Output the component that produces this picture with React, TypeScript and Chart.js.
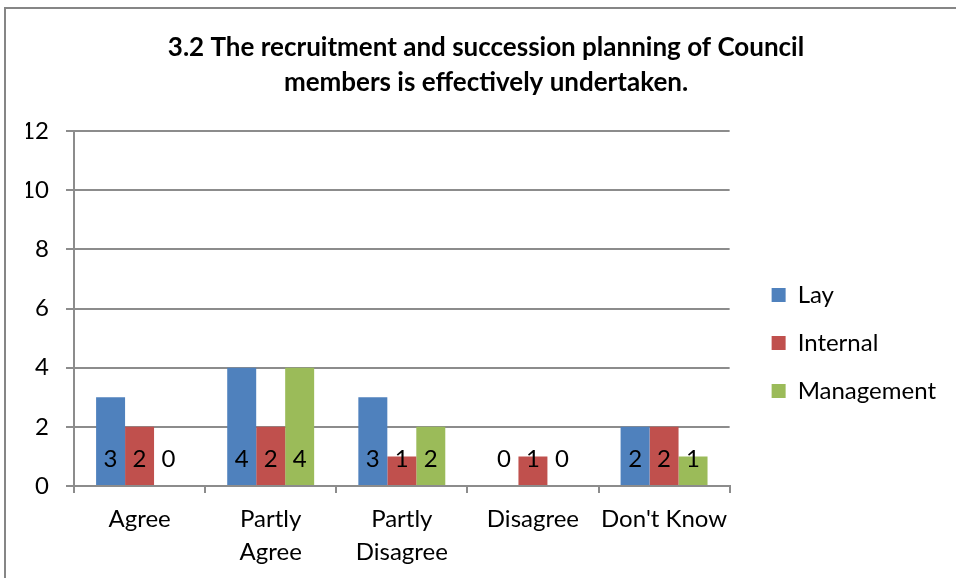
import React, { useEffect, useRef } from "react";
import { Chart, registerables } from "chart.js";

Chart.register(...registerables);

const titleLines = [
  "3.2 The recruitment and succession planning of Council",
  "members is effectively undertaken.",
];
const categories: (string | string[])[] = [
  "Agree",
  ["Partly", "Agree"],
  ["Partly", "Disagree"],
  "Disagree",
  "Don't Know",
];
const seriesNames = ["Lay", "Internal", "Management"];
const layValues = [3, 4, 3, 0, 2];
const internalValues = [2, 2, 1, 1, 2];
const managementValues = [0, 4, 2, 0, 1];
const seriesColors = ["#4F81BD", "#C0504D", "#9BBB59"];
const yMin = 0;
const yMax = 12;
const yStep = 2;

const FONT = "Lato, 'Open Sans', sans-serif";
const GRID = "#8c8c8c";

const CANVAS_W = 972;
const CANVAS_H = 578;
const PAD_L = 26;
const PAD_R = 26;

const valueLabels = {
  id: "valueLabels",
  afterDatasetsDraw(chart: any) {
    const ctx = chart.ctx;
    const yScale = chart.scales.y;
    const base = yScale.getPixelForValue(0);
    ctx.save();
    ctx.font = `24px ${FONT}`;
    ctx.fillStyle = "#000";
    ctx.textAlign = "center";
    ctx.textBaseline = "middle";
    chart.data.datasets.forEach((ds: any, i: number) => {
      const meta = chart.getDatasetMeta(i);
      meta.data.forEach((bar: any, j: number) => {
        ctx.fillText(String(ds.data[j]), bar.x, base - 27);
      });
    });
    ctx.restore();
  },
};

export default function App() {
  const ref = useRef<HTMLCanvasElement>(null);
  useEffect(() => {
    if (!ref.current) return;
    const values = [layValues, internalValues, managementValues];
    const chart = new Chart(ref.current, {
      type: "bar",
      data: {
        labels: categories,
        datasets: seriesNames.map((name, i) => ({
          label: name,
          data: values[i],
          backgroundColor: seriesColors[i],
          borderWidth: 0,
          barPercentage: 1,
          categoryPercentage: 0.663,
        })),
      },
      options: {
        animation: false,
        responsive: false,
        devicePixelRatio: 1,
        layout: { padding: { left: PAD_L, right: PAD_R, top: 0, bottom: 0 } },
        plugins: {
          tooltip: { enabled: false },
          title: {
            display: true,
            text: titleLines,
            color: "#000",
            font: { family: FONT, size: 26, weight: "bold", lineHeight: 35 / 26 },
            padding: { top: 30, bottom: 31 },
          },
          legend: {
            position: "right",
            align: "center",
            maxWidth: 400,
            title: {
              display: true,
              text: " ",
              font: { size: 10, lineHeight: 1.2 },
              padding: { top: 96, bottom: 0 },
            },
            labels: {
              boxWidth: 14,
              boxHeight: 14,
              padding: 24,
              color: "#000",
              font: { family: FONT, size: 24 },
            },
          },
        },
        scales: {
          x: {
            offset: true,
            grid: {
              display: true,
              drawOnChartArea: false,
              drawTicks: true,
              tickLength: 7,
              color: GRID,
              lineWidth: 2,
            },
            border: { display: true, color: GRID, width: 2 },
            ticks: {
              color: "#000",
              padding: 10,
              font: { family: FONT, size: 24, lineHeight: 33 / 24 },
              maxRotation: 0,
              autoSkip: false,
            },
            afterFit(scale: any) {
              scale.height = 92;
            },
          },
          y: {
            min: yMin,
            max: yMax,
            grid: {
              color: GRID,
              lineWidth: 2,
              tickLength: 8,
              drawTicks: true,
            },
            border: { display: true, color: GRID, width: 2 },
            ticks: {
              stepSize: yStep,
              color: "#000",
              padding: 17,
              font: { family: FONT, size: 24 },
            },
            afterFit(scale: any) {
              scale.width = 74 - PAD_L;
            },
          },
          y2: {
            position: "right",
            display: true,
            grid: { display: false, drawTicks: false },
            border: { display: false },
            ticks: { display: false },
            afterFit(scale: any) {
              scale.width = 18;
            },
          },
        },
      },
      plugins: [valueLabels],
    });
    return () => chart.destroy();
  }, []);

  return (
    <div
      style={{
        position: "absolute",
        left: 0,
        top: 0,
        width: 956,
        height: 578,
        overflow: "hidden",
        background: "#fff",
      }}
    >
      <canvas
        ref={ref}
        width={CANVAS_W}
        height={CANVAS_H}
        style={{ display: "block", width: CANVAS_W, height: CANVAS_H }}
      />
      <div
        style={{
          position: "absolute",
          left: 4,
          top: 7,
          right: -10,
          bottom: -10,
          borderTop: "2px solid #868686",
          borderLeft: "2px solid #868686",
          pointerEvents: "none",
        }}
      />
    </div>
  );
}
